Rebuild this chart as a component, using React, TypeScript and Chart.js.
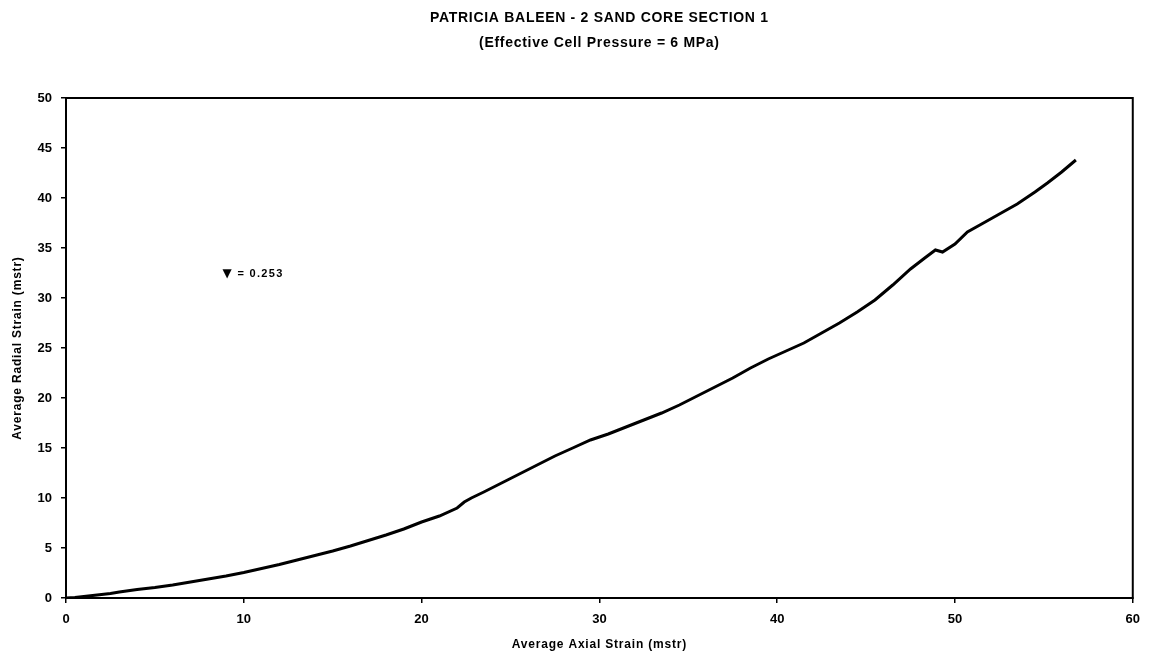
import React, { useEffect, useRef } from "react";
import { Chart, registerables } from "chart.js";

Chart.register(...registerables);

// Chart text
const titleLines = ["PATRICIA BALEEN - 2 SAND CORE SECTION 1", "(Effective Cell Pressure = 6 MPa)"];
const xAxisTitle = "Average Axial Strain (mstr)";
const yAxisTitle = "Average Radial Strain (mstr)";
const noteSymbol = "\u25BC";
const noteText = "= 0.253";
const noteAt = [8.8, 32.4]; // data coordinates of the note's left edge

// Axis ranges
const xRange = [0, 60];
const xStep = 10;
const yRange = [0, 50];
const yStep = 5;

// Measured strain curve
const axialStrain = [
  0, 0.5, 1, 1.5, 2, 2.5, 3, 4, 5, 6, 7, 8, 9, 10, 11, 12, 13, 14, 15, 16, 17, 18, 19, 20, 21, 22,
  22.4, 22.8, 23.5, 24.5, 25.5, 26.5, 27.5, 28.5, 29.5, 30.5, 31.5, 32.5, 33.5, 34.5, 35.5, 36.5,
  37.5, 38.5, 39.5, 40.5, 41.5, 42.5, 43.5, 44.5, 45.5, 46.5, 47.5, 48.3, 48.9, 49.3, 50.0, 50.7,
  51.5, 52.5, 53.5, 54.5, 55.2, 56.0, 56.8,
];
const radialStrain = [
  0, 0.05, 0.15, 0.25, 0.35, 0.45, 0.6, 0.85, 1.05, 1.3, 1.6, 1.9, 2.2, 2.55, 2.95, 3.35, 3.8, 4.25, 4.7, 5.2, 5.75, 6.3, 6.9, 7.6, 8.2, 9.0,
  9.6, 10.0, 10.6, 11.5, 12.4, 13.3, 14.2, 15.0, 15.8, 16.4, 17.1, 17.8, 18.5, 19.3, 20.2, 21.1,
  22.0, 23.0, 23.9, 24.7, 25.5, 26.5, 27.5, 28.6, 29.8, 31.3, 32.9, 34.0, 34.8, 34.6, 35.4, 36.6,
  37.4, 38.4, 39.4, 40.6, 41.5, 42.6, 43.8,
];

const FONT = "'Liberation Sans', Arial, Helvetica, sans-serif";

const decorations = {
  id: "decorations",
  afterDraw(chart: any) {
    const { ctx, chartArea, scales } = chart;
    ctx.save();
    // frame around the plot area
    ctx.strokeStyle = "#000";
    ctx.lineWidth = 2;
    ctx.strokeRect(chartArea.left, chartArea.top, chartArea.right - chartArea.left, chartArea.bottom - chartArea.top);

    ctx.fillStyle = "#000";
    ctx.textBaseline = "middle";
    const cx = (chartArea.left + chartArea.right) / 2;
    const cy = (chartArea.top + chartArea.bottom) / 2;

    // two-line heading
    ctx.textAlign = "center";
    ctx.font = `bold 14px ${FONT}`;
    (ctx as any).letterSpacing = "0.7px";
    ctx.fillText(titleLines[0], cx, 18);
    ctx.fillText(titleLines[1], cx, 43);

    // axis titles
    ctx.font = `bold 12px ${FONT}`;
    (ctx as any).letterSpacing = "0.8px";
    ctx.fillText(xAxisTitle, cx, 645);
    ctx.save();
    ctx.translate(18, cy);
    ctx.rotate(-Math.PI / 2);
    ctx.fillText(yAxisTitle, 0, 0);
    ctx.restore();

    // Poisson's ratio note
    const nx = scales.x.getPixelForValue(noteAt[0]);
    const ny = scales.y.getPixelForValue(noteAt[1]);
    ctx.textAlign = "left";
    (ctx as any).letterSpacing = "0px";
    ctx.font = `bold 12px 'DejaVu Sans', ${FONT}`;
    ctx.fillText(noteSymbol, nx, ny);
    ctx.font = `bold 11px ${FONT}`;
    (ctx as any).letterSpacing = "1.3px";
    ctx.fillText(noteText, nx + 15, ny);
    ctx.restore();
  },
};

export default function App() {
  const canvasRef = useRef<HTMLCanvasElement | null>(null);

  useEffect(() => {
    const canvas = canvasRef.current;
    if (!canvas) return;
    const points = axialStrain.map((x, i) => ({ x, y: radialStrain[i] }));
    const tickFont = { family: FONT, size: 13, weight: "bold" as const };
    const chart = new Chart(canvas, {
      type: "line",
      data: {
        datasets: [
          {
            data: points,
            borderColor: "#000",
            borderWidth: 3,
            pointRadius: 0,
            tension: 0,
            fill: false,
          },
        ],
      },
      options: {
        responsive: false,
        animation: false,
        devicePixelRatio: 1,
        layout: { padding: { top: 98, right: 16, left: 0, bottom: 0 } },
        plugins: {
          legend: { display: false },
          tooltip: { enabled: false },
          title: { display: false },
        },
        scales: {
          x: {
            type: "linear",
            min: xRange[0],
            max: xRange[1],
            ticks: { stepSize: xStep, color: "#000", font: tickFont, padding: 9, maxRotation: 0 },
            grid: { drawOnChartArea: false, drawTicks: true, tickLength: 5, color: "#000", lineWidth: 1.5 },
            border: { display: true, color: "#000", width: 2 },
            afterFit(scale: any) {
              scale.height = 59;
            },
          },
          y: {
            type: "linear",
            min: yRange[0],
            max: yRange[1],
            ticks: { stepSize: yStep, color: "#000", font: tickFont, padding: 9 },
            grid: { drawOnChartArea: false, drawTicks: true, tickLength: 5, color: "#000", lineWidth: 1.5 },
            border: { display: true, color: "#000", width: 2 },
            afterFit(scale: any) {
              scale.width = 66;
            },
          },
        },
      },
      plugins: [decorations],
    });
    return () => chart.destroy();
  }, []);

  return (
    <div style={{ position: "absolute", left: 0, top: 0, width: 1149, height: 657, background: "#fff" }}>
      <canvas ref={canvasRef} width={1149} height={657} />
    </div>
  );
}
